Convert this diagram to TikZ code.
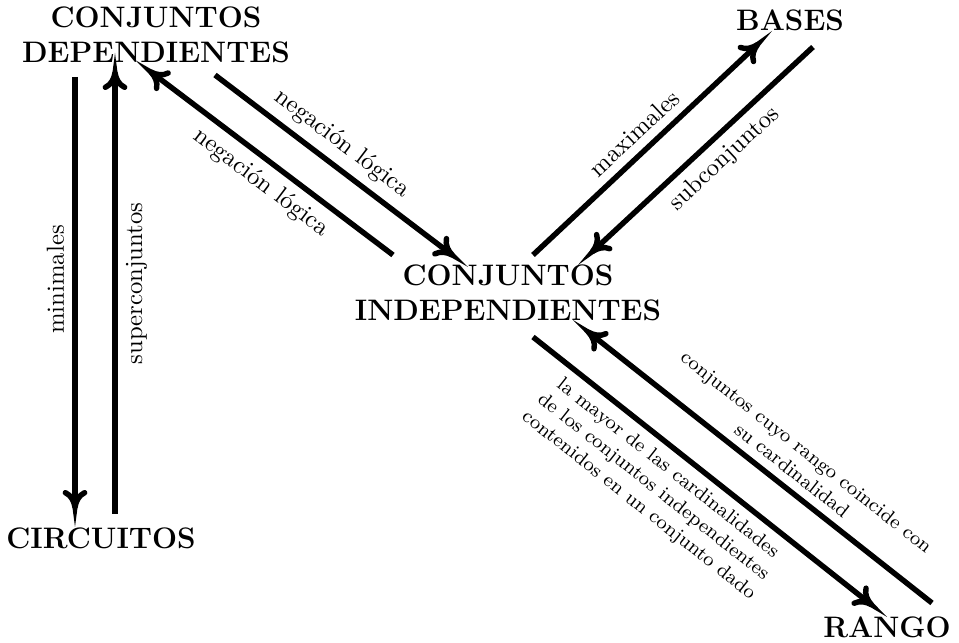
\documentclass[tikz,border=0pt]{standalone}
\usetikzlibrary{arrows.meta}

\tikzset{
	concepto/.style = {font=\large\bfseries, align=center},
	flecha/.style = {-{Computer Modern Rightarrow[length=8pt, width=10pt, sep=-3pt] Triangle[length=10pt, width=2.6pt, line width=0pt]}, line width=2.2pt},
	etiqueta/.style = {sloped, align=center},
	largo/.style = {sloped, align=center, font=\footnotesize}
}

\begin{document}
\begin{tikzpicture}[x=0.4049pt, y=-0.4049pt]
	\useasboundingbox (0,0) rectangle (959,643);

	\node[concepto] (dep) at (156,35) {CONJUNTOS\\DEPENDIENTES};
	\node[concepto] (ind) at (508,293) {CONJUNTOS\\INDEPENDIENTES};
	\node[concepto] (bas) at (790,20) {BASES};
	\node[concepto] (cir) at (101,538) {CIRCUITOS};
	\node[concepto] (ran) at (887,627) {RANGO};

	\draw[flecha] ([shift={(-81,42)}]dep.center) -- node[pos=0.45, rotate=90, anchor=south]{minimales} ([shift={(-26,-11)}]cir.center);
	\draw[flecha] ([shift={(14,-24)}]cir.center) -- node[pos=0.5, rotate=90, anchor=north]{superconjuntos} ([shift={(-41,18)}]dep.center);

	\draw[flecha] ([shift={(59,40)}]dep.center) -- node[etiqueta, pos=0.45, above]{negación lógica} ([shift={(-40,-26)}]ind.center);
	\draw[flecha] ([shift={(-115,-38)}]ind.center) -- node[etiqueta, pos=0.46, below]{negación lógica} ([shift={(-21,25)}]dep.center);

	\draw[flecha] ([shift={(25,-38)}]ind.center) -- node[etiqueta, pos=0.48, above]{maximales} ([shift={(-18,11)}]bas.center);
	\draw[flecha] ([shift={(23,27)}]bas.center) -- node[etiqueta, pos=0.44, below]{subconjuntos} ([shift={(70,-28)}]ind.center);

	\draw[flecha] ([shift={(25,44)}]ind.center) -- node[largo, pos=0.415, below]{la mayor de las cardinalidades\\de los conjuntos independientes\\contenidos en un conjunto dado} ([shift={(0,-10)}]ran.center);
	\draw[flecha] ([shift={(45,-24)}]ran.center) -- node[largo, pos=0.42, above]{conjuntos cuyo rango coincide con\\su cardinalidad} ([shift={(65,27)}]ind.center);
\end{tikzpicture}
\end{document}
